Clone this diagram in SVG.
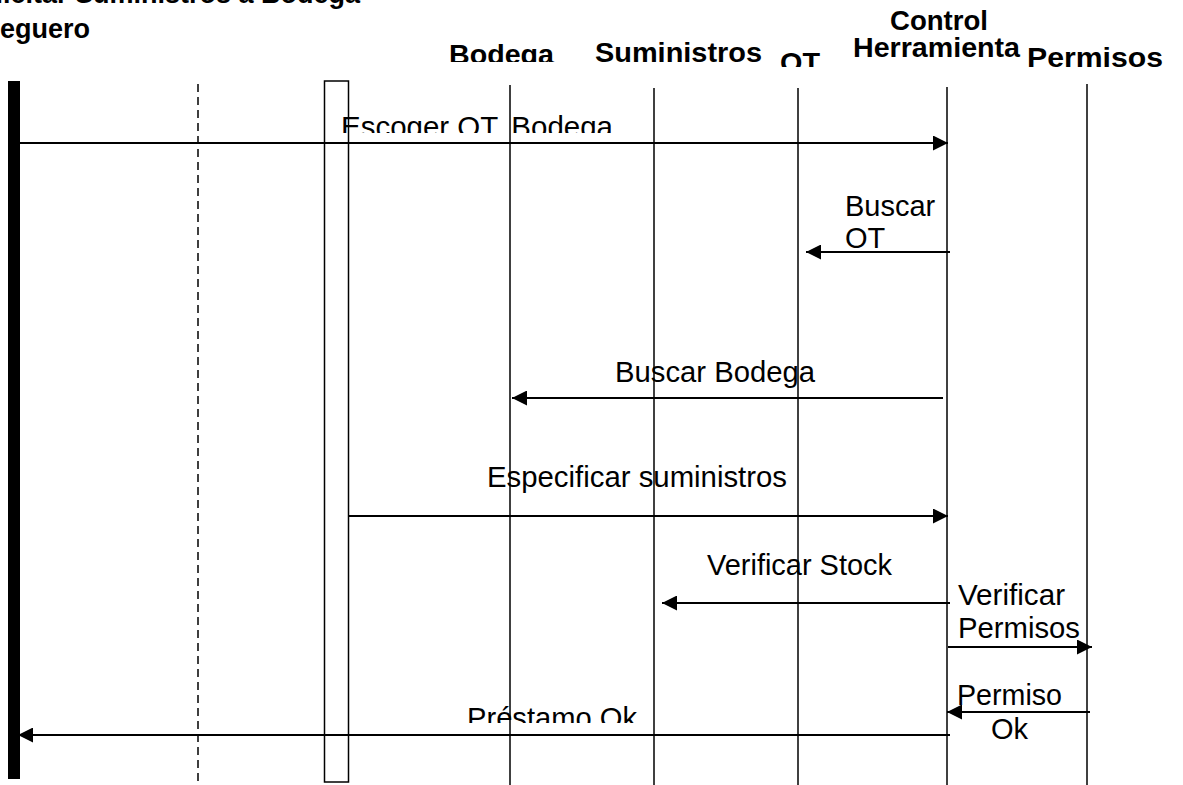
<svg xmlns="http://www.w3.org/2000/svg" width="1183" height="785" viewBox="0 0 1183 785">
<style>
.h{font-family:"Liberation Sans",Arial,sans-serif;font-weight:bold;font-size:28px;fill:#000}
.tt{font-family:"Liberation Sans",Arial,sans-serif;font-weight:bold;font-size:27px;fill:#000}
.t{font-family:"Liberation Sans",Arial,sans-serif;font-size:29px;fill:#000}
.ll{stroke:#000;stroke-width:1.5;fill:none}
.msg{stroke:#000;stroke-width:2;fill:none}
</style>
<defs>
<marker id="ah" viewBox="0 0 15 15" refX="15" refY="7.5" markerWidth="15" markerHeight="15" markerUnits="userSpaceOnUse" orient="auto"><path d="M0,0L15,7.5L0,15Z" fill="#000"/></marker>
<clipPath id="cBod"><rect x="400" y="0" width="200" height="62"/></clipPath>
<clipPath id="cOT"><rect x="770" y="0" width="60" height="67"/></clipPath>
<clipPath id="cEsc"><rect x="300" y="90" width="400" height="43"/></clipPath>
<clipPath id="cPre"><rect x="440" y="680" width="240" height="43"/></clipPath>
</defs>
<g id="title">
<text class="tt" x="360" y="3" text-anchor="end">Solicitar Suministros a Bodega</text>
</g>
<g id="bodeguero">
<text class="tt" x="90" y="38" text-anchor="end">Bodeguero</text>
<rect x="8" y="81" width="12" height="698" fill="#000"/>
</g>
<g id="boundary">
<line class="ll" x1="198" y1="84" x2="198" y2="785" stroke-dasharray="8,5"/>
</g>
<g id="activation">
<rect x="324.5" y="81" width="24" height="701" class="ll"/>
</g>
<g id="bodega">
<text class="h" x="449" y="64" textLength="105" lengthAdjust="spacingAndGlyphs" clip-path="url(#cBod)">Bodega</text>
<line class="ll" x1="510" y1="85" x2="510" y2="785"/>
</g>
<g id="suministros">
<text class="h" x="595" y="62" textLength="167" lengthAdjust="spacingAndGlyphs">Suministros</text>
<line class="ll" x1="654" y1="88" x2="654" y2="785"/>
</g>
<g id="ot">
<text class="h" x="780" y="72" textLength="40" lengthAdjust="spacingAndGlyphs" clip-path="url(#cOT)">OT</text>
<line class="ll" x1="798" y1="88" x2="798" y2="785"/>
</g>
<g id="control">
<text class="h" x="890" y="30" textLength="98" lengthAdjust="spacingAndGlyphs">Control</text>
<text class="h" x="853" y="57" textLength="167" lengthAdjust="spacingAndGlyphs">Herramienta</text>
<line class="ll" x1="947" y1="87" x2="947" y2="785"/>
</g>
<g id="permisos">
<text class="h" x="1027" y="67" textLength="136" lengthAdjust="spacingAndGlyphs">Permisos</text>
<line class="ll" x1="1087" y1="84" x2="1087" y2="785"/>
</g>
<g id="connectors">
<line class="msg" x1="20" y1="143" x2="948" y2="143" marker-end="url(#ah)"/>
<text class="t" x="341" y="137" textLength="272" lengthAdjust="spacingAndGlyphs" clip-path="url(#cEsc)">Escoger OT. Bodega</text>
<line class="msg" x1="950" y1="252" x2="806" y2="252" marker-end="url(#ah)"/>
<text class="t" x="845" y="216">Buscar</text>
<text class="t" x="845" y="248">OT</text>
<line class="msg" x1="943" y1="398" x2="512" y2="398" marker-end="url(#ah)"/>
<text class="t" x="615" y="382" textLength="200" lengthAdjust="spacingAndGlyphs">Buscar Bodega</text>
<line class="msg" x1="348" y1="516" x2="948" y2="516" marker-end="url(#ah)"/>
<text class="t" x="487" y="487" textLength="300" lengthAdjust="spacingAndGlyphs">Especificar suministros</text>
<line class="msg" x1="950" y1="603" x2="662" y2="603" marker-end="url(#ah)"/>
<text class="t" x="707" y="575" textLength="185" lengthAdjust="spacingAndGlyphs">Verificar Stock</text>
<line class="msg" x1="948" y1="647" x2="1092" y2="647" marker-end="url(#ah)"/>
<text class="t" x="958" y="605" textLength="107" lengthAdjust="spacingAndGlyphs">Verificar</text>
<text class="t" x="958" y="638" textLength="122" lengthAdjust="spacingAndGlyphs">Permisos</text>
<line class="msg" x1="1090" y1="712" x2="947" y2="712" marker-end="url(#ah)"/>
<text class="t" x="957" y="705" textLength="105" lengthAdjust="spacingAndGlyphs">Permiso</text>
<text class="t" x="991" y="739">Ok</text>
<line class="msg" x1="950" y1="735" x2="18" y2="735" marker-end="url(#ah)"/>
<text class="t" x="467" y="728" textLength="170" lengthAdjust="spacingAndGlyphs" clip-path="url(#cPre)">Préstamo Ok</text>
</g>
</svg>
